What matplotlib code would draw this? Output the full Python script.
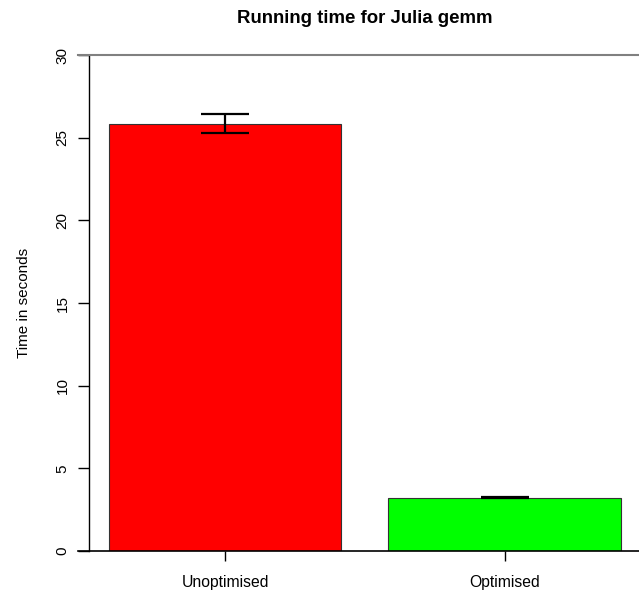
import matplotlib.pyplot as plt
from matplotlib.lines import Line2D

plt.rcParams['font.family'] = ['Liberation Sans', 'DejaVu Sans']

# data
labels = ['Unoptimised', 'Optimised']
times = [25.85, 3.22]
errors = [0.57, 0.04]
colours = ['#ff0000', '#00ff00']
yticks = [0, 5, 10, 15, 20, 25, 30]

fig = plt.figure(figsize=(6.39, 5.91), dpi=100)
ax = fig.add_axes([89 / 639, 1 - 551 / 591, 1 - 89 / 639, (551 - 55) / 591])

pos = list(range(len(labels)))
ax.bar(pos, times, width=0.832, color=colours, edgecolor='#333333', linewidth=0.8, zorder=2)
ax.errorbar(pos, times, yerr=errors, fmt='none', ecolor='black', elinewidth=1.6,
            capsize=17, capthick=1.6, zorder=3)

ax.set_xlim(-0.486, 1.479)
ax.set_ylim(0, 30)

for s in ['top', 'right', 'bottom']:
    ax.spines[s].set_visible(False)
ax.spines['left'].set_linewidth(1.0)

# lines at 0 and 30 running to the right edge
ax.add_line(Line2D([-0.02, 1], [0, 0], transform=ax.transAxes, color='black',
                   linewidth=1.2, clip_on=False, zorder=4))
ax.add_line(Line2D([-0.02, 1], [1, 1], transform=ax.transAxes, color='#808080',
                   linewidth=1.5, clip_on=False, zorder=4))

ax.set_yticks(yticks)
ax.set_yticklabels([str(t) for t in yticks], rotation=90, va='center', fontsize=11)
ax.tick_params(axis='y', length=8, width=1, pad=6)
ax.set_xticks(pos)
ax.set_xticklabels(labels, fontsize=11.3)
ax.tick_params(axis='x', length=7, width=1, pad=10)

ax.set_ylabel('Time in seconds', fontsize=11, labelpad=17.5)
ax.set_title('Running time for Julia gemm', fontsize=13.4, fontweight='bold', pad=23,
             x=(365 - 89) / 550)

fig.savefig('out.png', dpi=100)
